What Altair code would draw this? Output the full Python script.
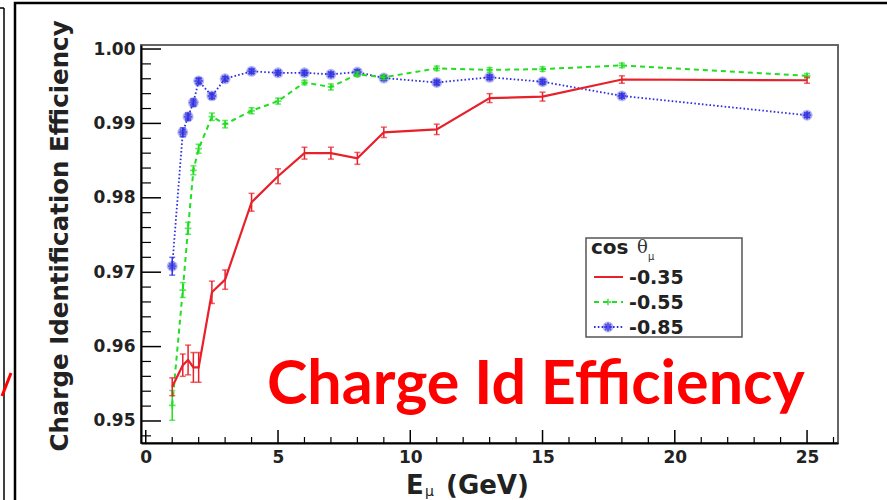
import altair as alt
import pandas as pd

# ---------------- data ----------------
energy = [1, 1.4, 1.6, 1.8, 2, 2.5, 3, 4, 5, 6, 7, 8, 9, 11, 13, 15, 18, 25]

eff_035 = [0.9546, 0.9575, 0.9582, 0.9572, 0.9572, 0.9673, 0.9690, 0.9794, 0.9829,
           0.9860, 0.9860, 0.9853, 0.9888, 0.9892, 0.9934, 0.9936, 0.9959, 0.9958]
err_035 = [0.0012, 0.0015, 0.0020, 0.0020, 0.0020, 0.0015, 0.0013, 0.0012, 0.0010,
           0.0008, 0.0008, 0.0008, 0.0007, 0.0007, 0.0006, 0.0006, 0.0005, 0.0004]

eff_055 = [0.9521, 0.9676, 0.9759, 0.9837, 0.9866, 0.9909, 0.9899, 0.9917, 0.9930,
           0.9955, 0.9949, 0.9966, 0.9962, 0.9974, 0.9972, 0.9973, 0.9978, 0.9964]
err_055 = [0.0020, 0.0010, 0.0008, 0.0006, 0.0006, 0.0005, 0.0005, 0.0004, 0.0004,
           0.0003, 0.0004, 0.0003, 0.0003, 0.0003, 0.0003, 0.0003, 0.0003, 0.0003]

eff_085 = [0.9708, 0.9888, 0.9909, 0.9928, 0.9957, 0.9937, 0.9960, 0.9970, 0.9968,
           0.9968, 0.9966, 0.9969, 0.9961, 0.9955, 0.9962, 0.9956, 0.9937, 0.9911]
err_085 = [0.0012, 0.0006, 0.0005, 0.0005, 0.0004, 0.0004, 0.0003, 0.0003, 0.0003,
           0.0003, 0.0003, 0.0003, 0.0003, 0.0003, 0.0003, 0.0003, 0.0003, 0.0003]

series_labels = ["-0.35", "-0.55", "-0.85"]
series_colors = ["#E8202A", "#22DD22", "#3030E0"]

y_major = [0.95, 0.96, 0.97, 0.98, 0.99, 1.00]
y_minor = [0.948, 0.952, 0.954, 0.956, 0.958, 0.962, 0.964, 0.966, 0.968, 0.972, 0.974,
           0.976, 0.978, 0.982, 0.984, 0.986, 0.988, 0.992, 0.994, 0.996, 0.998]
x_major = [0, 5, 10, 15, 20, 25]
x_minor = [1, 2, 3, 4, 6, 7, 8, 9, 11, 12, 13, 14, 16, 17, 18, 19, 21, 22, 23, 24, 26]

y_title = "Charge Identification Efficiency"
overlay_text = "Charge Id Efficiency"

# ---------------- scales / axes ----------------
W, H = 697, 398
xs = alt.Scale(domain=[-0.18, 26.17], nice=False, zero=False)
ys = alt.Scale(domain=[0.94704, 1.00054], nice=False, zero=False)

FONT = "DejaVu Sans"
x_axis = alt.Axis(values=x_major, format="d", ticks=False, tickSize=0, grid=False,
                  labelFont=FONT, labelFontWeight="bold", labelFontSize=17,
                  labelColor="#222", labelPadding=6, labelFlush=False,
                  labelOverlap=False, domainColor="black", domainWidth=2, title=None)
y_axis = alt.Axis(values=y_major, format=".2f", ticks=False, tickSize=0, grid=False,
                  labelFont=FONT, labelFontWeight="bold", labelFontSize=17,
                  labelColor="#222", labelPadding=6, labelFlush=False,
                  labelOverlap=False, domainColor="black", domainWidth=2, title=None)


def X(f):
    return alt.X(f, type="quantitative", scale=xs, axis=x_axis)


def Y(f):
    return alt.Y(f, type="quantitative", scale=ys, axis=y_axis)


one = pd.DataFrame({"a": [0]})

# ---------------- inner ticks (ROOT style) ----------------
ymaj = alt.Chart(pd.DataFrame({"v": y_major})).mark_rule(color="black", strokeWidth=1.5).encode(
    y=Y("v"), x=alt.value(0), x2=alt.value(20))
ymin = alt.Chart(pd.DataFrame({"v": y_minor})).mark_rule(color="black", strokeWidth=1.2).encode(
    y=Y("v"), x=alt.value(0), x2=alt.value(10))
xmaj = alt.Chart(pd.DataFrame({"v": x_major})).mark_rule(color="black", strokeWidth=1.5).encode(
    x=X("v"), y=alt.value(H), y2=alt.value(H - 13))
xmin = alt.Chart(pd.DataFrame({"v": x_minor})).mark_rule(color="black", strokeWidth=1.2).encode(
    x=X("v"), y=alt.value(H), y2=alt.value(H - 6))

# ---------------- series ----------------
asterisk = "M-1,0L1,0M0,-1L0,1M-0.7,-0.7L0.7,0.7M-0.7,0.7L0.7,-0.7"
plus = "M-1,0L1,0M0,-1L0,1"


def series(eff, err, color, dash, width, marker):
    df = pd.DataFrame({"E": energy, "eff": eff, "err": err})
    df["lo"] = df["eff"] - df["err"]
    df["hi"] = df["eff"] + df["err"]
    base = alt.Chart(df)
    line_kw = dict(color=color, strokeWidth=width)
    if dash:
        line_kw["strokeDash"] = dash
    layers = [
        base.mark_line(**line_kw).encode(x=X("E"), y=Y("eff")),
        base.mark_rule(color=color, strokeWidth=1.5).encode(x=X("E"), y=Y("lo"), y2="hi"),
        base.mark_tick(orient="horizontal", size=6, thickness=1.5, color=color).encode(x=X("E"), y=Y("lo")),
        base.mark_tick(orient="horizontal", size=6, thickness=1.5, color=color).encode(x=X("E"), y=Y("hi")),
    ]
    if marker == "star":
        layers.append(base.mark_point(shape="circle", filled=True, color=color, opacity=0.35, size=120)
                      .encode(x=X("E"), y=Y("eff")))
        layers.append(base.mark_point(shape=asterisk, filled=False, color=color, strokeWidth=2, size=70)
                      .encode(x=X("E"), y=Y("eff")))
    elif marker == "plus":
        layers.append(base.mark_point(shape=plus, filled=False, color=color, strokeWidth=1.8, size=45)
                      .encode(x=X("E"), y=Y("eff")))
    return layers


red_layers = series(eff_035, err_035, series_colors[0], None, 2.2, None)
green_layers = series(eff_055, err_055, series_colors[1], [5, 4], 2, "plus")
blue_layers = series(eff_085, err_085, series_colors[2], [1.6, 2.2], 1.8, "star")

# ---------------- decorations (pixel positions relative to plot area) ----------------
OX, OY = 141, 45  # plot origin in page pixels


def px(v):
    return alt.value(v - OX)


def py(v):
    return alt.value(v - OY)


outer_frame = alt.Chart(one).mark_rect(fill=None, stroke="black", strokeWidth=2.5).encode(
    x=px(15), x2=px(905), y=py(3), y2=py(515))
left_v = alt.Chart(one).mark_rule(color="black", strokeWidth=1.5).encode(
    x=px(4), y=py(8), y2=py(500))
left_h = alt.Chart(one).mark_rule(color="black", strokeWidth=1.5).encode(
    x=px(-5), x2=px(4), y=py(8))
red_bit = alt.Chart(one).mark_rule(color="#FF0000", strokeWidth=3).encode(
    x=px(2), x2=px(11), y=py(396), y2=py(373))

y_title_mark = alt.Chart(one).mark_text(
    text=y_title, font=FONT, fontWeight="bold", fontSize=24.5, angle=270,
    align="center", baseline="alphabetic", color="#222").encode(x=px(68), y=py(236))

x_title_E = alt.Chart(one).mark_text(
    text="E", font=FONT, fontWeight="bold", fontSize=26, align="left",
    baseline="alphabetic", color="#222").encode(x=px(406), y=py(494))
x_title_mu = alt.Chart(one).mark_text(
    text="μ", font=FONT, fontSize=14, align="left", baseline="alphabetic",
    color="#222").encode(x=px(425), y=py(496))
x_title_rest = alt.Chart(one).mark_text(
    text="(GeV)", font=FONT, fontWeight="bold", fontSize=26, align="left",
    baseline="alphabetic", color="#222").encode(x=px(446), y=py(494))

# legend box
leg_box = alt.Chart(one).mark_rect(fill="white", stroke="#555", strokeWidth=1.5).encode(
    x=px(586), x2=px(742), y=py(238), y2=py(337))
leg_cos = alt.Chart(one).mark_text(
    text="cos", font=FONT, fontWeight="bold", fontSize=20, align="left",
    baseline="middle", color="#222").encode(x=px(591), y=py(248))
leg_theta = alt.Chart(one).mark_text(
    text="θ", font="DejaVu Serif", fontSize=18, align="left",
    baseline="middle", color="#333").encode(x=px(637), y=py(248))
leg_mu = alt.Chart(one).mark_text(
    text="μ", font=FONT, fontSize=10, align="left",
    baseline="middle", color="#333").encode(x=px(648), y=py(257))

leg_layers = [leg_box, leg_cos, leg_theta, leg_mu]
leg_y = [277, 302, 327]
dashes = [None, [5, 4], [1.6, 2.2]]
for i in range(3):
    kw = dict(color=series_colors[i], strokeWidth=2)
    if dashes[i]:
        kw["strokeDash"] = dashes[i]
    leg_layers.append(alt.Chart(one).mark_rule(**kw).encode(
        x=px(594), x2=px(623), y=py(leg_y[i])))
    leg_layers.append(alt.Chart(one).mark_text(
        text=series_labels[i], font=FONT, fontWeight="bold", fontSize=19, align="left",
        baseline="middle", color="#222").encode(x=px(629), y=py(leg_y[i] + 1)))
leg_layers.append(alt.Chart(one).mark_point(shape=plus, filled=False, color=series_colors[1],
                                            strokeWidth=1.8, size=45).encode(x=px(608), y=py(leg_y[1])))
leg_layers.append(alt.Chart(one).mark_point(shape="circle", filled=True, color=series_colors[2],
                                            opacity=0.35, size=120).encode(x=px(608), y=py(leg_y[2])))
leg_layers.append(alt.Chart(one).mark_point(shape=asterisk, filled=False, color=series_colors[2],
                                            strokeWidth=2, size=70).encode(x=px(608), y=py(leg_y[2])))

big_text = alt.Chart(one).mark_text(
    text=overlay_text, font="Lato", fontWeight="bold", fontSize=61, align="left",
    baseline="alphabetic", color="#FF0000").encode(x=px(267), y=py(404))

chart = alt.layer(
    outer_frame, left_v, left_h, red_bit,
    ymaj, ymin, xmaj, xmin,
    *blue_layers, *green_layers, *red_layers,
    *leg_layers,
    big_text,
    y_title_mark, x_title_E, x_title_mu, x_title_rest,
).properties(
    width=W, height=H,
    padding={"left": OX, "top": OY, "right": 887 - OX - W, "bottom": 500 - OY - H},
    autosize=alt.AutoSizeParams(type="none"),
    background="white",
).configure_view(stroke="#666", strokeWidth=2)

chart.save("out.html", embed_options={"renderer": "svg", "actions": False})
